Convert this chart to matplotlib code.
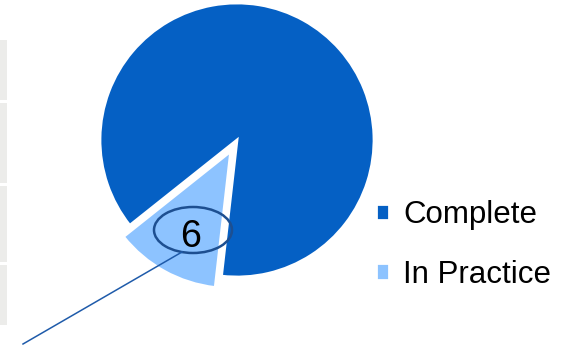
import matplotlib.pyplot as plt
from matplotlib.patches import Ellipse, Rectangle

plt.rcParams['font.family'] = ['Liberation Sans', 'DejaVu Sans']

# data
labels = ['Complete', 'In Practice']
values = [42, 6]
colors = ['#0560C4', '#8DC3FF']
shown_label = '6'

W, H = 569, 360
fig = plt.figure(figsize=(W / 100, H / 100), dpi=100)
ax = fig.add_axes([0, 0, 1, 1])
ax.set_xlim(0, W)
ax.set_ylim(0, H)
ax.set_aspect('equal')
ax.axis('off')

# faint table cells cut off at the left edge
for y0, y1 in [(40, 100), (103, 183), (186, 262), (265, 325)]:
    ax.add_patch(Rectangle((0, H - y1), 7, y1 - y0, color='#ECECEA', lw=0))

cx, cy, r = 237, H - 140, 137
# explode is in data units here (pixels)
wedges, _ = ax.pie(values, colors=colors, startangle=218.5, counterclock=False,
                   explode=[0, 13], center=(cx, cy), radius=r,
                   wedgeprops=dict(edgecolor='white', linewidth=2))
ax.set_xlim(0, W)
ax.set_ylim(0, H)

# callout for the small slice
ax.add_patch(Ellipse((193, H - 230), 78, 46, fill=False, edgecolor='#1D4F91', lw=1.8))
ax.text(191, H - 237, shown_label, fontsize=27, ha='center', va='center', color='black')
ax.plot([182, 23], [H - 252, H - 344], color='#1F5BAA', lw=1.1)

leg = ax.legend(wedges, labels, loc='upper left', bbox_to_anchor=(376, H - 200),
                bbox_transform=ax.transData, frameon=False, fontsize=22.5,
                handlelength=0.42, handleheight=0.42, handletextpad=0.45,
                labelspacing=0.95, borderpad=0, borderaxespad=0)
for t in leg.get_texts():
    t.set_color('black')

fig.savefig('out.png', dpi=100)
